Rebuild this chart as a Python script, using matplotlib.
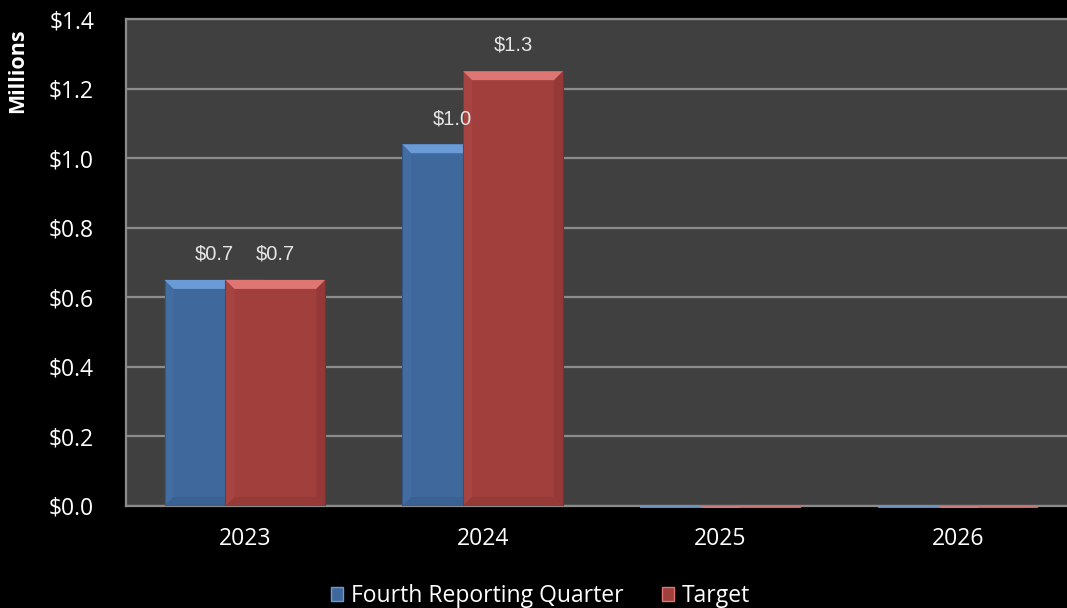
import matplotlib
matplotlib.use("Agg")
import matplotlib.pyplot as plt
from matplotlib.patches import Polygon, Patch
import numpy as np
from decimal import Decimal, ROUND_HALF_UP

# valeurs en millions de dollars
years = ["2023", "2024", "2025", "2026"]
fourth_q = [0.65, 1.04, 0.0, 0.0]
target = [0.65, 1.25, 0.0, 0.0]
series_names = ["Fourth Reporting Quarter", "Target"]
y_ticks = [0.0, 0.2, 0.4, 0.6, 0.8, 1.0, 1.2, 1.4]

BLUE, BLUE_LT, BLUE_DK = "#3f689c", "#6b9bd6", "#2f5180"
RED, RED_LT, RED_DK = "#a13f3d", "#de7674", "#7e2f2d"
TXT = "Open Sans"

W, OFF = 0.42, 0.128          # largeur des barres, decalage par rapport au centre
BX, BY = 9 / 238, 9 / 348     # taille du biseau (unites de donnees)


def bevel(ax, rects, light, dark, z):
    """Biseau facon Excel : bord haut clair, bords droit/bas sombres."""
    for r in rects:
        x0, w, h = r.get_x(), r.get_width(), r.get_height()
        x1 = x0 + w
        if h < 2 * BY:
            # barre nulle : simple trait sous l'axe
            ax.plot([x0, x1], [-0.004, -0.004], color=light, lw=1.2,
                    clip_on=False, zorder=z, solid_capstyle="butt")
            continue
        top = [(x0, h), (x1, h), (x1 - BX, h - BY), (x0 + BX, h - BY)]
        left = [(x0, 0), (x0, h), (x0 + BX, h - BY), (x0 + BX, BY)]
        right = [(x1, 0), (x1, h), (x1 - BX, h - BY), (x1 - BX, BY)]
        bot = [(x0, 0), (x1, 0), (x1 - BX, BY), (x0 + BX, BY)]
        ax.add_patch(Polygon(top, closed=True, fc=light, ec="none", zorder=z))
        ax.add_patch(Polygon(left, closed=True, fc=light, ec="none", alpha=0.1, zorder=z))
        ax.add_patch(Polygon(right, closed=True, fc=dark, ec="none", alpha=0.35, zorder=z))
        ax.add_patch(Polygon(bot, closed=True, fc=dark, ec="none", alpha=0.3, zorder=z))


def fmt(v):
    d = Decimal(str(v)).quantize(Decimal("0.1"), rounding=ROUND_HALF_UP)
    return f"${d}"


fig = plt.figure(figsize=(10.67, 6.08), dpi=100, facecolor="black")
ax = fig.add_axes([126 / 1067, 1 - 506 / 608, (1077 - 126) / 1067, (506 - 19) / 608])
ax.set_facecolor("#404040")

x = np.arange(len(years))
b1 = ax.bar(x - OFF, fourth_q, W, color=BLUE, edgecolor=BLUE_DK, lw=0.8, zorder=3)
bevel(ax, b1, BLUE_LT, BLUE_DK, 3.1)
b2 = ax.bar(x + OFF, target, W, color=RED, edgecolor=RED_DK, lw=0.8, zorder=4)
bevel(ax, b2, RED_LT, RED_DK, 4.1)

for bars, vals in [(b1, fourth_q), (b2, target)]:
    for r, v in zip(bars, vals):
        if v <= 0:
            continue
        ax.annotate(fmt(v), (r.get_x() + r.get_width() / 2, v), xytext=(0, 18.5),
                    textcoords="offset points", ha="center", va="center",
                    fontsize=14.5, family="Liberation Sans", color="#e6e6e6", zorder=6)

ax.set_xlim(-0.5, 3.5)
ax.set_ylim(0, 1.4)
ax.set_yticks(y_ticks)
ax.set_yticklabels([f"${t:.1f}" for t in y_ticks])
ax.set_xticks(x)
ax.set_xticklabels(years)
ax.yaxis.grid(True, color="#8c8c8c", lw=1.6)
ax.set_axisbelow(True)
ax.tick_params(axis="y", length=0, pad=23, labelsize=16.5, labelcolor="white")
ax.tick_params(axis="x", length=0, pad=15, labelsize=16.5, labelcolor="white")
for lab in ax.get_xticklabels() + ax.get_yticklabels():
    lab.set_family(TXT)
for s in ["left", "bottom", "top"]:
    ax.spines[s].set_color("#8c8c8c")
    ax.spines[s].set_linewidth(1.6)
ax.spines["right"].set_visible(False)

fig.text(18 / 1067, 1 - 71 / 608, "Millions", rotation=90, ha="center", va="center",
         fontsize=15.5, fontweight="bold", family=TXT, color="white")

handles = [Patch(fc=BLUE, ec=BLUE_LT, lw=1), Patch(fc=RED, ec=RED_LT, lw=1)]
leg = fig.legend(handles, series_names, loc="center",
                 bbox_to_anchor=(0.5 + 7 / 1067, 1 - 596 / 608),
                 ncol=2, frameon=False, handlelength=0.55, handleheight=0.55,
                 handletextpad=0.35, columnspacing=1.65,
                 prop={"family": TXT, "size": 16.5})
for t in leg.get_texts():
    t.set_color("white")

fig.savefig("out.png", dpi=100, facecolor="black")
